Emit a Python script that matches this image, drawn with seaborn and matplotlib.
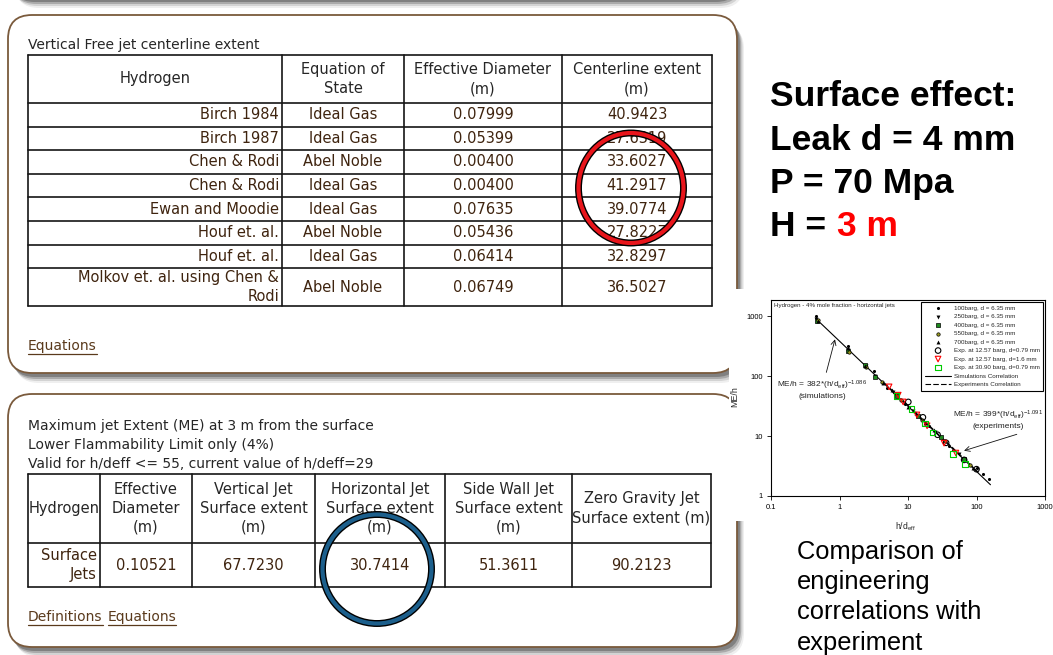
import numpy as np
import pandas as pd
import seaborn as sns
import matplotlib.pyplot as plt
from matplotlib.patches import FancyBboxPatch, Ellipse, Rectangle
import matplotlib.patheffects as pe

sns.set_theme(style='ticks')
plt.rcParams['font.family'] = ['Liberation Sans', 'DejaVu Sans']
plt.rcParams['mathtext.default'] = 'regular'

# ---- table data ----
t1_title = 'Vertical Free jet centerline extent'
t1_cols = ['Hydrogen', 'Equation of\nState', 'Effective Diameter\n(m)', 'Centerline extent\n(m)']
t1_models = ['Birch 1984', 'Birch 1987', 'Chen & Rodi', 'Chen & Rodi', 'Ewan and Moodie',
             'Houf et. al.', 'Houf et. al.', 'Molkov et. al. using Chen &\nRodi']
t1_eos = ['Ideal Gas', 'Ideal Gas', 'Abel Noble', 'Ideal Gas', 'Ideal Gas',
          'Abel Noble', 'Ideal Gas', 'Abel Noble']
t1_deff = ['0.07999', '0.05399', '0.00400', '0.00400', '0.07635', '0.05436', '0.06414', '0.06749']
t1_extent = ['40.9423', '27.6319', '33.6027', '41.2917', '39.0774', '27.8227', '32.8297', '36.5027']

t2_lines = ['Maximum jet Extent (ME) at 3 m from the surface',
            'Lower Flammability Limit only (4%)',
            'Valid for h/deff <= 55, current value of h/deff=29']
t2_cols = ['Hydrogen', 'Effective\nDiameter\n(m)', 'Vertical Jet\nSurface extent\n(m)',
           'Horizontal Jet\nSurface extent\n(m)', 'Side Wall Jet\nSurface extent\n(m)',
           'Zero Gravity Jet\nSurface extent (m)']
t2_row = ['Surface\nJets', '0.10521', '67.7230', '30.7414', '51.3611', '90.2123']

# ---- inset chart data ----
sim100_x = [0.45, 1.32, 3.2, 5.0, 9.0, 20, 40, 100, 126, 154]
sim100_y = [1000, 315, 120, 64, 34, 14.5, 6.8, 2.9, 2.35, 1.9]
sim250_x = [0.46, 1.34, 2.4, 3.3, 6.0, 12, 25, 55]
sim250_y = [880, 275, 148, 100, 55, 26, 11.8, 5.0]
sim400_x = [0.47, 1.35, 2.35, 3.25, 7.0, 14, 30, 65]
sim400_y = [840, 262, 150, 96, 46, 21.5, 9.6, 4.2]
sim550_x = [0.48, 1.36, 2.4, 4.2, 8.0, 16, 35, 80]
sim550_y = [850, 255, 142, 80, 40, 18.5, 8.1, 3.3]
sim700_x = [0.48, 1.33, 2.38, 4.3, 5.8, 10, 13, 18, 24, 45, 90]
sim700_y = [820, 290, 145, 77, 58, 31, 24, 16.5, 12.5, 6.1, 2.9]
exp1_x = [10.1, 16.5, 27, 36, 66, 100]
exp1_y = [37, 20.5, 10.5, 7.7, 4.0, 2.8]
exp2_x = [5.3, 7.2, 8.5, 13.5, 19, 33.6, 50]
exp2_y = [66, 48, 37, 22.5, 14.8, 7.6, 5.2]
exp3_x = [6.8, 11.3, 17.7, 22.9, 45, 68]
exp3_y = [46, 28, 16.3, 11.4, 5.0, 3.4]
simfit_x = [0.45, 160]
simfit_y = [908, 1.54]
expfit_x = [4.5, 110]
expfit_y = [77, 2.4]

fig = plt.figure(figsize=(10.53, 6.55), dpi=100)
bg = fig.add_axes([0, 0, 1, 1])
bg.set_xlim(0, 1053)
bg.set_ylim(655, 0)
bg.axis('off')

BROWN = '#3f240f'
TXT = '#262626'
TF = 'DejaVu Sans'


def panel(x0, y0, x1, y1):
    for off, a in [(10, 0.08), (8, 0.15), (6, 0.25), (4, 0.35)]:
        bg.add_patch(FancyBboxPatch((x0 + off * 0.7, y0 + off), x1 - x0, y1 - y0,
                                    boxstyle='round,pad=0,rounding_size=24',
                                    fc='#333333', ec='none', alpha=a, zorder=1))
    bg.add_patch(FancyBboxPatch((x0, y0), x1 - x0, y1 - y0,
                                boxstyle='round,pad=0,rounding_size=24',
                                fc='white', ec='#7a5a3c', lw=1.3, zorder=2))


def table(xe, ye, rows, fs=10.5, pitch=19):
    for x in xe:
        bg.plot([x, x], [ye[0], ye[-1]], color='#151515', lw=1.2, zorder=3)
    for y in ye:
        bg.plot([xe[0], xe[-1]], [y, y], color='#151515', lw=1.2, zorder=3)
    for i, row in enumerate(rows):
        yc = (ye[i] + ye[i + 1]) / 2
        for j, cell in enumerate(row):
            parts = cell.split('\n')
            for k, ln in enumerate(parts):
                yy = yc + (k - (len(parts) - 1) / 2) * pitch
                if i > 0 and j == 0:
                    bg.text(xe[1] - 3, yy, ln, ha='right', va='center', fontsize=fs,
                            color=BROWN, family=TF, zorder=4)
                else:
                    bg.text((xe[j] + xe[j + 1]) / 2, yy, ln, ha='center', va='center',
                            fontsize=fs, color=TXT if i == 0 else BROWN, family=TF, zorder=4)


def link(x, y, words):
    r = fig.canvas.get_renderer()
    inv = bg.transData.inverted()
    for w in words:
        t = bg.text(x, y, w, ha='left', va='center', fontsize=10, color='#5a3a1c', family=TF, zorder=4)
        bb = t.get_window_extent(r)
        (ax0, _), (ax1, _) = inv.transform([[bb.x0, bb.y0], [bb.x1, bb.y1]])
        bg.plot([ax0, ax1], [y + 8, y + 8], color='#5a3a1c', lw=0.9, zorder=4)
        x = ax1 + 5


# previous panel's bottom edge and the two panels
panel(8, -80, 737, -2)
panel(8, 15, 737, 373)
panel(8, 394, 737, 647)

bg.text(28, 45, t1_title, fontsize=10, color=TXT, family=TF, va='center', zorder=4)
rows1 = [t1_cols] + [list(r) for r in zip(t1_models, t1_eos, t1_deff, t1_extent)]
table([28, 282, 404, 562, 712],
      [55, 103, 126.6, 150.2, 173.8, 197.4, 221, 244.6, 268.2, 306], rows1)
link(28, 346, ['Equations'])

for k, s in enumerate(t2_lines):
    bg.text(28, 426 + k * 19, s, fontsize=10, color=TXT, family=TF, va='center', zorder=4)
table([28, 100, 192, 315, 445, 572, 711], [474, 543, 587], [t2_cols, t2_row])
link(28, 617, ['Definitions', 'Equations'])

# highlight rings
for (cx, cy, w, h, col) in [(631, 188, 105, 110, '#e8151b'), (377, 569, 109, 109, '#1c5f8c')]:
    e = Ellipse((cx, cy), w, h, fill=False, ec=col, lw=3.0, zorder=6)
    e.set_path_effects([pe.Stroke(linewidth=5.0, foreground='black'), pe.Normal()])
    bg.add_patch(e)

# white area behind the inset figure
bg.add_patch(Rectangle((729, 289), 330, 232, fc='white', ec='none', zorder=5))

# right hand texts
big = dict(fontsize=25.5, fontweight='bold', color='black', va='center', zorder=6)
bg.text(770, 97, 'Surface effect:', **big)
bg.text(770, 140, 'Leak d = 4 mm', **big)
bg.text(770, 184, 'P = 70 Mpa', **big)
th = bg.text(770, 227, 'H =', **big)
bg.annotate('3 m', xy=(1, 0), xycoords=th, xytext=(7.5, 0), textcoords='offset points',
            ha='left', va='bottom', fontsize=25.5, fontweight='bold', color='#ff0000', zorder=6)
for k, s in enumerate(['Comparison of', 'engineering', 'correlations with', 'experiment']):
    bg.text(797, 552 + k * 30.2, s, fontsize=18.4, color='black', va='center', zorder=6)

# ---- inset log-log chart ----
ax = fig.add_axes([771 / 1053, 159 / 655, 274 / 1053, 196 / 655])
ax.set_xscale('log')
ax.set_yscale('log')

sns.scatterplot(x=sim100_x, y=sim100_y, marker='o', color='black', s=5, linewidth=0,
                label='100barg, d = 6.35 mm', ax=ax, zorder=3)
sns.scatterplot(x=sim250_x, y=sim250_y, marker='v', color='black', s=8, linewidth=0,
                label='250barg, d = 6.35 mm', ax=ax, zorder=3)
sns.scatterplot(x=sim400_x, y=sim400_y, marker='s', facecolor='#1e8a1e', edgecolor='black', s=6,
                linewidth=0.5, label='400barg, d = 6.35 mm', ax=ax, zorder=3)
sns.scatterplot(x=sim550_x, y=sim550_y, marker='o', facecolor='#9a9a20', edgecolor='black', s=6,
                linewidth=0.5, label='550barg, d = 6.35 mm', ax=ax, zorder=3)
sns.scatterplot(x=sim700_x, y=sim700_y, marker='^', color='black', s=8, linewidth=0,
                label='700barg, d = 6.35 mm', ax=ax, zorder=3)
sns.scatterplot(x=exp1_x, y=exp1_y, marker='o', facecolors='none', edgecolors='black', s=16,
                linewidth=0.8, label='Exp. at 12.57 barg, d=0.79 mm', ax=ax, zorder=4)
sns.scatterplot(x=exp2_x, y=exp2_y, marker='v', facecolors='none', edgecolors='red', s=16,
                linewidth=0.8, label='Exp. at 12.57 barg, d=1.6 mm', ax=ax, zorder=4)
sns.scatterplot(x=exp3_x, y=exp3_y, marker='s', facecolors='none', edgecolors='#00cc00', s=16,
                linewidth=0.8, label='Exp. at 30.90 barg, d=0.79 mm', ax=ax, zorder=4)
sns.lineplot(x=simfit_x, y=simfit_y, color='black', linewidth=0.8, sort=False,
             label='Simulations Correlation', ax=ax, zorder=2)
sns.lineplot(x=expfit_x, y=expfit_y, color='black', linewidth=0.8, linestyle=(0, (5, 2)), sort=False,
             label='Experiments Correlation', ax=ax, zorder=2)

ax.set_xlim(0.1, 1000)
ax.set_ylim(1, 1850)
ax.minorticks_off()
ax.set_xticks([0.1, 1, 10, 100, 1000])
ax.set_xticklabels(['0.1', '1', '10', '100', '1000'])
ax.set_yticks([1, 10, 100, 1000])
ax.set_yticklabels(['1', '10', '100', '1000'])
ax.tick_params(labelsize=5.5, length=3, width=0.6, pad=3, direction='out', colors='black')
for sp in ax.spines.values():
    sp.set_visible(True)
    sp.set_color('black')
    sp.set_linewidth(0.8)

ax.set_xlabel('h/d$_{eff}$', fontsize=6.2)
ax.set_ylabel('ME/h', fontsize=6.4)
ax.xaxis.set_label_coords(0.489, -0.125)
ax.yaxis.set_label_coords(-0.117, 0.505)

ax.text(0.01, 0.985, 'Hydrogen - 4% mole fraction - horizontal jets', transform=ax.transAxes,
        fontsize=4.4, ha='left', va='top', color='#222')

ax.annotate('ME/h = 382*(h/d$_{eff}$)$^{-1.086}$\n(simulations)', xy=(0.86, 409),
            xytext=(0.186, 0.546), textcoords='axes fraction', ha='center', va='center',
            fontsize=6, color='#222',
            arrowprops=dict(arrowstyle='->', color='#111', lw=0.6, mutation_scale=9, shrinkB=0))
ax.annotate('ME/h = 399*(h/d$_{eff}$)$^{-1.091}$\n(experiments)', xy=(65.8, 5.69),
            xytext=(0.83, 0.39), textcoords='axes fraction', ha='center', va='center',
            fontsize=6, color='#222',
            arrowprops=dict(arrowstyle='->', color='#111', lw=0.6, mutation_scale=9, shrinkB=0,
                            relpos=(0.85, 0)))

leg = ax.legend(loc='upper right', fontsize=4.5, frameon=True, fancybox=False, edgecolor='black',
                framealpha=1, borderaxespad=0.25, labelspacing=0.5, handlelength=4.2,
                handletextpad=0.4, borderpad=0.6)
leg.get_frame().set_linewidth(0.8)

fig.savefig('out.png', dpi=100)
